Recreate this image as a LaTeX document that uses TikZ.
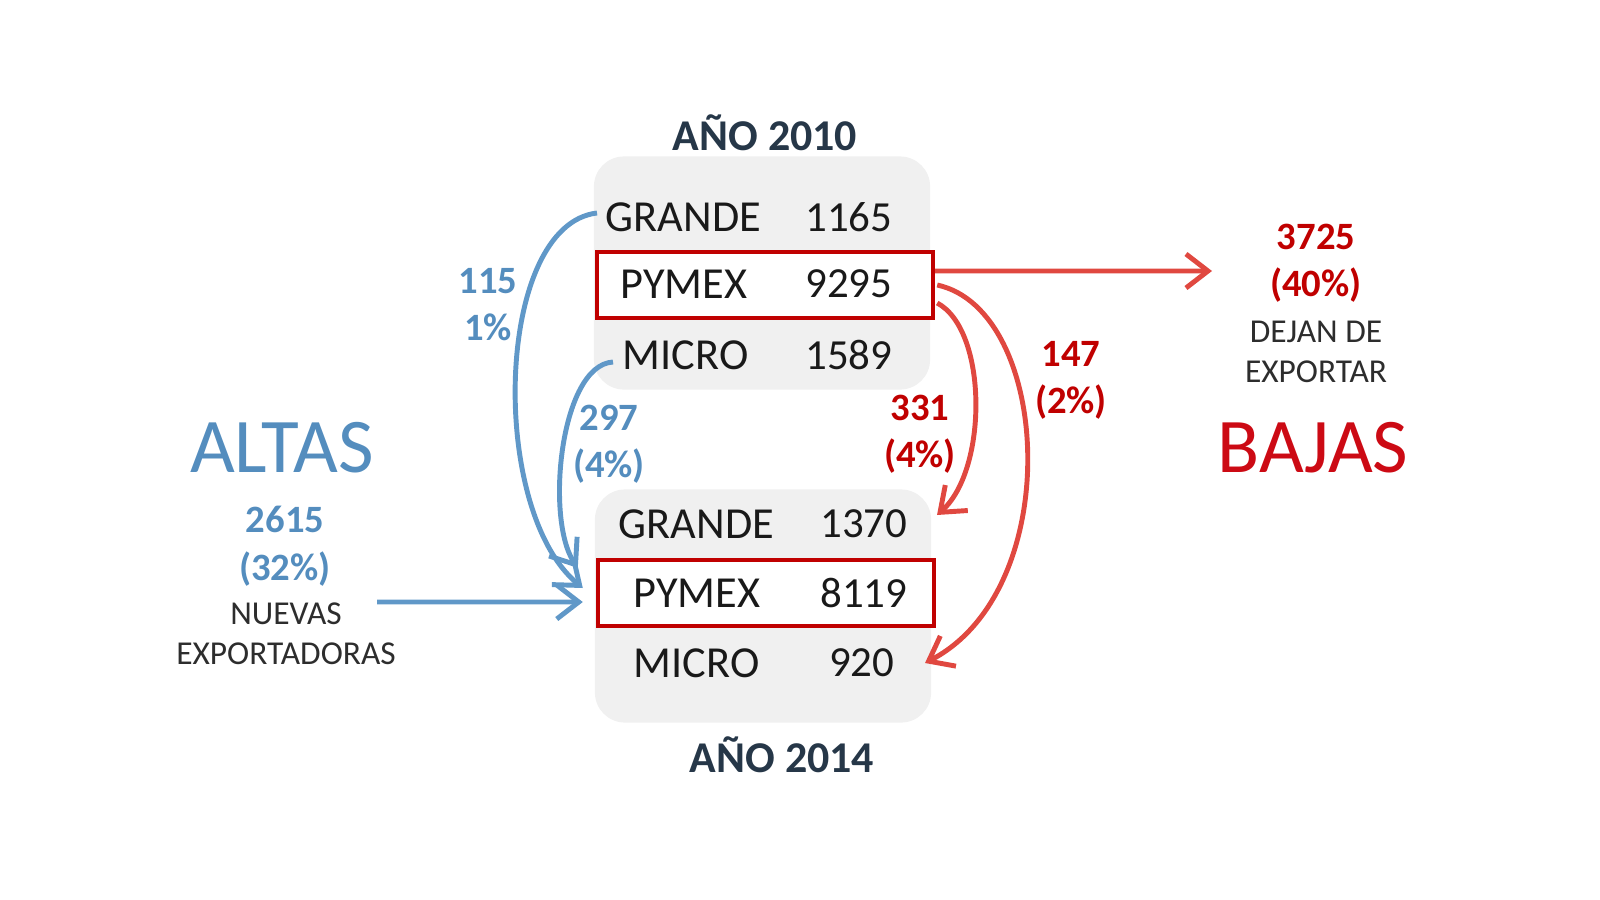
\documentclass[tikz,border=0pt]{standalone}
\usepackage{fontspec}
\setmainfont{Carlito}
\usetikzlibrary{arrows.meta,positioning}
\definecolor{altblue}{RGB}{84,141,190}
\definecolor{flowblue}{RGB}{96,152,200}
\definecolor{flowred}{RGB}{224,72,64}
\definecolor{numred}{RGB}{192,0,0}
\definecolor{bajared}{RGB}{204,10,20}
\definecolor{titleink}{RGB}{38,55,72}
\definecolor{panelgray}{RGB}{240,240,240}
\definecolor{rowink}{RGB}{25,25,25}
\definecolor{noteink}{RGB}{45,45,45}

\begin{document}
\begin{tikzpicture}[x=0.01cm, y=-0.01cm,
panel/.style={fill=panelgray, rounded corners=0.3cm, minimum width=3.36cm, minimum height=2.33cm},
pymbox/.style={draw=numred, line width=1.2pt, fill=white, minimum width=3.36cm, minimum height=0.66cm},
rowtxt/.style={inner sep=0pt, anchor=west, text=rowink, font=\fontsize{12.6}{14}\selectfont},
rownum/.style={inner sep=0pt, anchor=east, text=rowink, font=\fontsize{12.2}{14}\selectfont},
yeartitle/.style={text=titleink, font=\bfseries\fontsize{12.5}{14}\selectfont},
flownum/.style={align=center, inner sep=0pt, font=\bfseries\fontsize{11}{13.4}\selectfont},
note/.style={align=center, inner sep=0pt, text=noteink, font=\fontsize{9.5}{11.3}\selectfont},
inflow/.style={draw=flowblue, line width=1.4pt, -{Straight Barb[length=2.2mm,width=3.4mm]}},
outflow/.style={draw=flowred, line width=1.4pt, -{Straight Barb[length=2.2mm,width=3.4mm]}}
]
\useasboundingbox (0,0) rectangle (1600,900);

% year 2010
\node[yeartitle] (y10) at (765,133) {AÑO 2010};
\node[panel] (box10) at (762,273) {};
\node[pymbox] (p10) at (765,285) {};
\node[rowtxt] (g10) at (605,217) {GRANDE};
\node[rownum] (g10n) at (893,217) {1165};
\node[rowtxt] (y10p) at (620,284) {PYMEX};
\node[rownum] (y10n) at (893,284) {9295};
\node[rowtxt] (m10) at (622,355) {MICRO};
\node[rownum] (m10n) at (893,355) {1589};

% year 2014
\node[panel] (box14) at (763,606) {};
\node[pymbox] (p14) at (766,593) {};
\node[rowtxt] (g14) at (618,524) {GRANDE};
\node[rownum] (g14n) at (908,524) {1370};
\node[rowtxt] (y14p) at (633,593) {PYMEX};
\node[rownum] (y14n) at (908,593) {8119};
\node[rowtxt] (m14) at (633,663) {MICRO};
\node[rownum] (m14n) at (895,663) {920};
\node[yeartitle] (y14) at (782,755) {AÑO 2014};

% altas
\node[text=altblue, font=\fontsize{22}{24}\selectfont] (altas) at (282,448) {ALTAS};
\node[flownum, text=altblue, font=\bfseries\fontsize{11}{13.7}\selectfont] (altn) at (285,546) {2615\\(32\%)};
\node[note] (nuevas) at (286,634) {NUEVAS\\EXPORTADORAS};
\coordinate (newin) at (377,602);

% bajas
\node[flownum, text=numred] (bajn) at (1316,263) {3725\\(40\%)};
\node[note] (dejan) at (1316,352) {DEJAN DE\\EXPORTAR};
\node[text=bajared, font=\fontsize{22}{24}\selectfont] (bajas) at (1313,448) {BAJAS};
\coordinate (exit) at (1212,271);

% flow labels
\node[flownum, text=altblue] (f115) at (488,305) {115\\1\%};
\node[flownum, text=altblue] (f297) at (609,444) {297\\(4\%)};
\node[flownum, text=numred] (f331) at (920,434) {331\\(4\%)};
\node[flownum, text=numred] (f147) at (1071,380) {147\\(2\%)};

% flows
\draw[inflow] ([xshift=-0.08cm,yshift=0.04cm]g10.west) .. controls (495,225) and (488,510) .. ([xshift=-0.13cm,yshift=0.05cm]p14.west);
\draw[inflow] ([xshift=-0.09cm,yshift=-0.07cm]m10.west) .. controls (560,365) and (545,520) .. ([xshift=-0.18cm,yshift=-0.10cm]p14.north west);
\draw[inflow] (newin) -- ([xshift=-0.13cm,yshift=-0.09cm]p14.west);
\draw[outflow] ([yshift=0.14cm]p10.east) -- (exit);
\draw[outflow] ([xshift=0.02cm,yshift=-0.18cm]p10.east) .. controls (988,330) and (988,470) .. ([xshift=0.29cm,yshift=0.09cm]g14n.east);
\draw[outflow] ([xshift=0.02cm]p10.east) .. controls (1052,310) and (1066,590) .. ([xshift=0.30cm]m14n.east);
\end{tikzpicture}
\end{document}
